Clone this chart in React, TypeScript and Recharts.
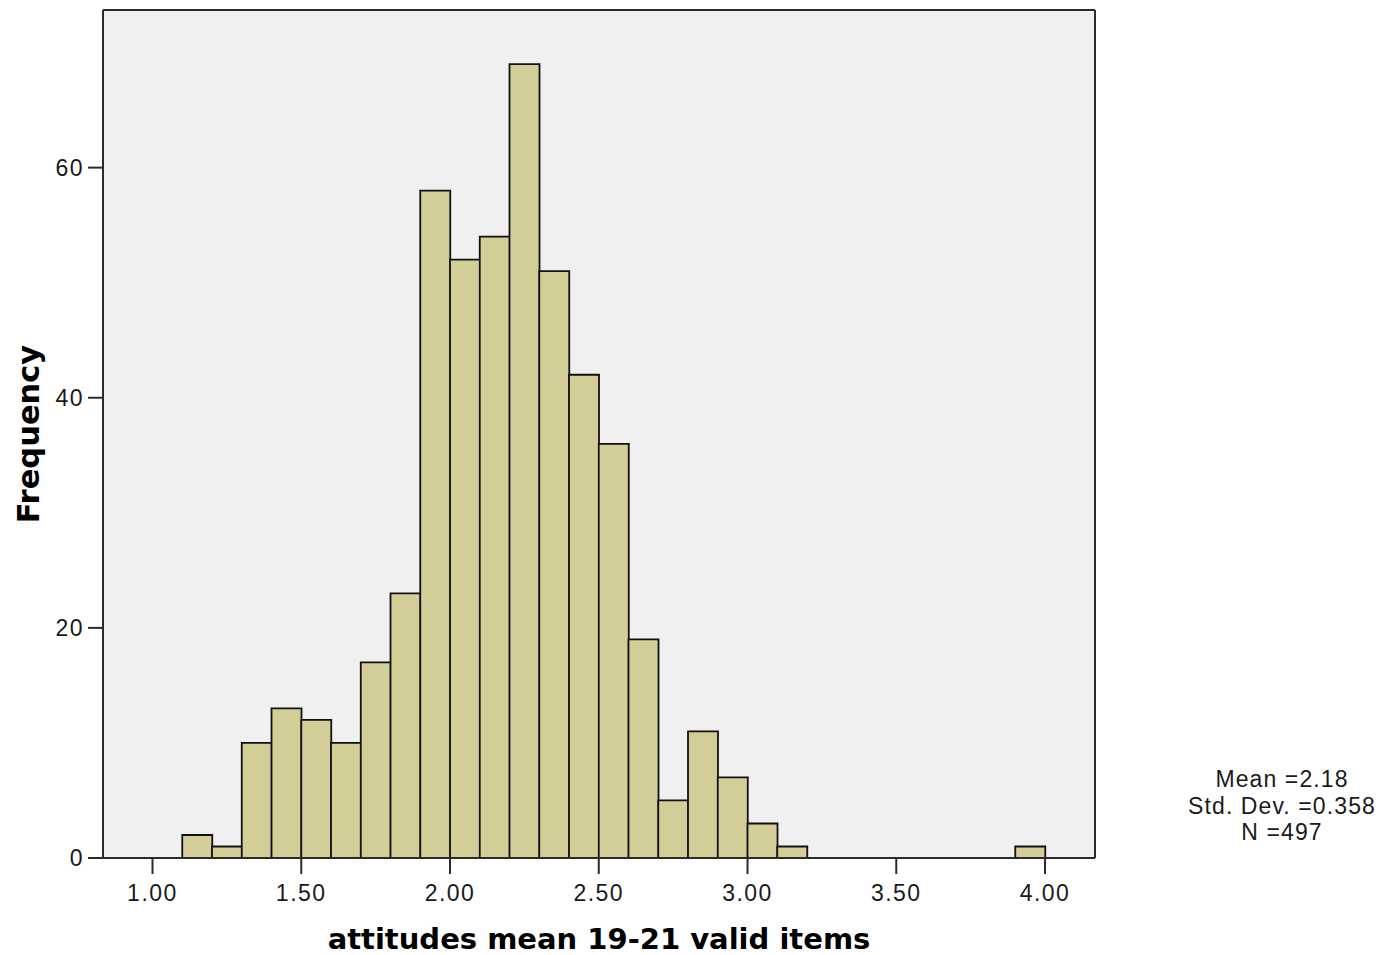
import React from 'react';
import {
  BarChart,
  Bar,
  XAxis,
  YAxis,
  CartesianGrid,
  ReferenceLine,
} from 'recharts';

// histogram bins (start of each 0.1-wide bin) and their frequencies
const binStarts = [
  1.1, 1.2, 1.3, 1.4, 1.5, 1.6, 1.7, 1.8, 1.9, 2.0,
  2.1, 2.2, 2.3, 2.4, 2.5, 2.6, 2.7, 2.8, 2.9, 3.0,
  3.1, 3.2, 3.3, 3.4, 3.5, 3.6, 3.7, 3.8, 3.9,
];
const frequencies = [
  2, 1, 10, 13, 12, 10, 17, 23, 58, 52,
  54, 69, 51, 42, 36, 19, 5, 11, 7, 3,
  1, 0, 0, 0, 0, 0, 0, 0, 1,
];
const xTicks = [1.0, 1.5, 2.0, 2.5, 3.0, 3.5, 4.0];
const yTicks = [0, 20, 40, 60];
const statLines = ['Mean =2.18', 'Std. Dev. =0.358', 'N =497'];

const BIN_WIDTH = 0.1;
const X_DOMAIN: [number, number] = [0.8336, 4.168];
const Y_DOMAIN: [number, number] = [0, 73.7];

const data = binStarts.map((start, i) => ({
  mid: start + BIN_WIDTH / 2,
  count: frequencies[i],
}));

const tickStyle = {
  fontFamily: '"Liberation Sans", Arial, sans-serif',
  fontSize: 23,
  fill: '#1a1a1a',
  letterSpacing: 1.5,
};

const titleStyle = {
  fontFamily: '"DejaVu Sans", Verdana, sans-serif',
  fontWeight: 'bold' as const,
  fill: '#000',
};

const frame = { stroke: '#2b2b2b', strokeWidth: 2 };

export default function App() {
  return (
    <div style={{ position: 'absolute', left: 0, top: 0, width: 1384, height: 955, background: '#fff' }}>
      <BarChart
        width={1384}
        height={955}
        data={data}
        margin={{ top: 10, right: 289, bottom: 0, left: 0 }}
        barCategoryGap={0}
        barGap={0}
      >
        <CartesianGrid fill="#f0f0f0" horizontal={false} vertical={false} />
        <XAxis
          dataKey="mid"
          type="number"
          domain={X_DOMAIN}
          allowDataOverflow
          ticks={xTicks}
          interval={0}
          tickFormatter={(v: number) => v.toFixed(2)}
          height={97}
          tickSize={16}
          tickMargin={11}
          axisLine={frame}
          tickLine={frame}
          tick={tickStyle}
          label={{
            value: 'attitudes mean 19-21 valid items',
            position: 'insideBottom',
            offset: 6,
            style: { ...titleStyle, fontSize: 29 },
          }}
        />
        <YAxis
          type="number"
          domain={Y_DOMAIN}
          allowDataOverflow
          ticks={yTicks}
          interval={0}
          width={103}
          tickSize={15}
          tickMargin={4}
          axisLine={frame}
          tickLine={frame}
          tick={tickStyle}
          label={{
            value: 'Frequency',
            angle: -90,
            position: 'insideLeft',
            offset: 28,
            style: { ...titleStyle, fontSize: 30.5, textAnchor: 'middle' },
          }}
        />
        <ReferenceLine y={Y_DOMAIN[1]} {...frame} ifOverflow="visible" />
        <ReferenceLine x={X_DOMAIN[1]} {...frame} ifOverflow="visible" />
        <Bar
          dataKey="count"
          fill="#d3ce97"
          stroke="#111"
          strokeWidth={1.8}
          isAnimationActive={false}
        />
      </BarChart>
      <div
        style={{
          position: 'absolute',
          left: 1182,
          top: 766,
          width: 200,
          textAlign: 'center',
          fontFamily: '"Liberation Sans", Arial, sans-serif',
          fontSize: 23,
          lineHeight: '26.5px',
          letterSpacing: 1.1,
          color: '#1a1a1a',
        }}
      >
        {statLines.map((line) => (
          <div key={line}>{line}</div>
        ))}
      </div>
    </div>
  );
}
